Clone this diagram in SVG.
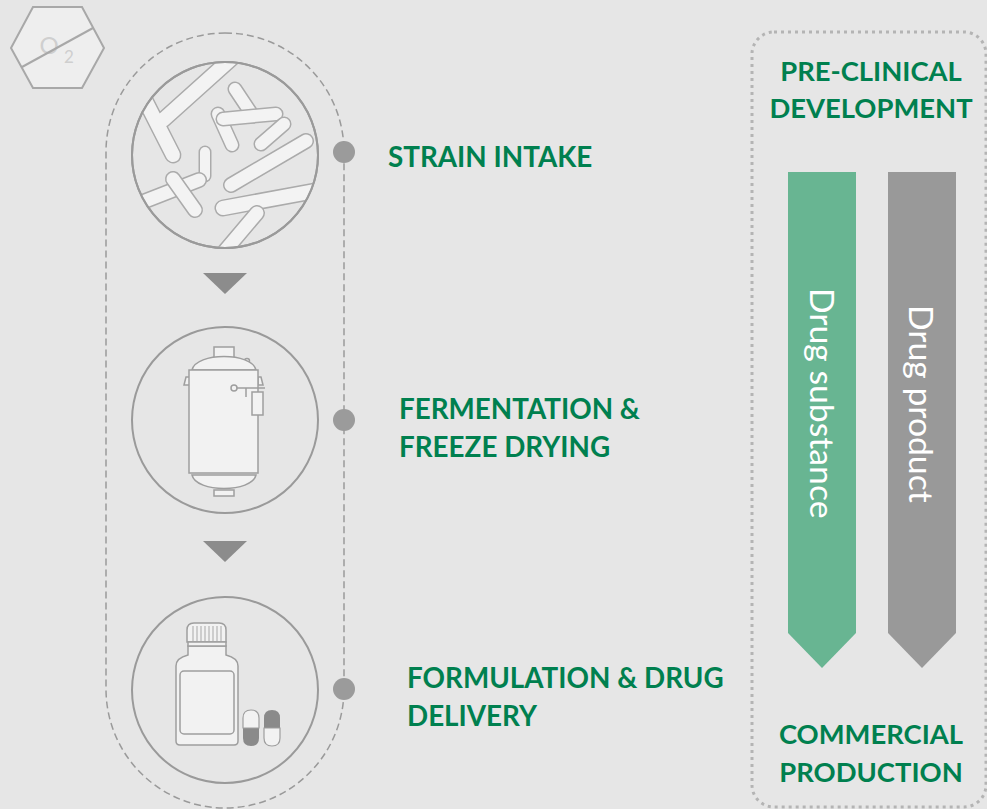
<svg xmlns="http://www.w3.org/2000/svg" width="987" height="809" viewBox="0 0 987 809">
  <style>
    .step { font-family: Lato, "Open Sans", "Liberation Sans", sans-serif; font-weight: 700; fill: #00804f; font-size: 27.8px; }
    .phase { font-family: Lato, "Open Sans", "Liberation Sans", sans-serif; font-weight: 700; fill: #00804f; font-size: 27.4px; text-anchor: middle; }
    .band { font-family: Lato, "Open Sans", "Liberation Sans", sans-serif; font-weight: 400; fill: #ffffff; font-size: 33.7px; }
    .ring { fill: #e6e6e6; stroke: #9a9a9a; stroke-width: 2; }
    .dot { fill: #9b9b9b; }
    .tri { fill: #8c8c8c; }
    .rodO { stroke: #ababab; stroke-linecap: round; fill: none; }
    .rodF { stroke: #f3f3f3; stroke-linecap: round; fill: none; }
    .ico { fill: #f2f2f2; stroke: #9e9e9e; stroke-width: 1.5; }
  </style>
  <defs>
    <clipPath id="clipMicrobe"><circle cx="225" cy="155" r="92"/></clipPath>
  </defs>

  <rect width="987" height="809" fill="#e6e6e6"/>

  <!-- oxygen badge -->
  <g id="oxygen-badge">
    <polygon points="33,7 82,7 104,48 82,88 33,88 11,48" fill="#eeeeee" stroke="#a8a8a8" stroke-width="2"/>
    <text x="49" y="54" font-family="Lato, 'Liberation Sans', sans-serif" font-size="24" fill="#cfcfcf" text-anchor="middle">O</text>
    <text x="69" y="63" font-family="Lato, 'Liberation Sans', sans-serif" font-size="17" fill="#cfcfcf" text-anchor="middle">2</text>
    <line x1="22" y1="67" x2="93" y2="28" stroke="#a8a8a8" stroke-width="2"/>
  </g>

  <!-- process loop and connectors -->
  <g id="connectors">
    <rect x="106" y="33" width="238" height="775" rx="119" ry="119" fill="none" stroke="#9a9a9a" stroke-width="1.5" stroke-dasharray="7,4"/>
    <polygon class="tri" points="203,273 247,273 225,294"/>
    <polygon class="tri" points="203,541 247,541 225,562"/>
  </g>

  <!-- step 1: strain intake -->
  <g id="strain-intake">
    <circle class="ring" cx="225" cy="155" r="93"/>
    <g clip-path="url(#clipMicrobe)">
      <g class="rodO" stroke-width="17">
        <line x1="232" y1="58" x2="163" y2="120"/>
        <line x1="145" y1="100" x2="173" y2="155"/>
      </g>
      <g class="rodF" stroke-width="14">
        <line x1="232" y1="58" x2="163" y2="120"/>
        <line x1="145" y1="100" x2="173" y2="155"/>
      </g>
      <line class="rodO" stroke-width="13" x1="205" y1="152" x2="205" y2="176"/>
      <line class="rodF" stroke-width="10" x1="205" y1="152" x2="205" y2="176"/>
      <line class="rodO" stroke-width="15" x1="235" y1="89" x2="253" y2="116"/>
      <line class="rodF" stroke-width="12" x1="235" y1="89" x2="253" y2="116"/>
      <line class="rodO" stroke-width="15" x1="218" y1="114" x2="232" y2="145"/>
      <line class="rodF" stroke-width="12" x1="218" y1="114" x2="232" y2="145"/>
      <line class="rodO" stroke-width="15" x1="223" y1="119" x2="276" y2="114"/>
      <line class="rodF" stroke-width="12" x1="223" y1="119" x2="276" y2="114"/>
      <line class="rodO" stroke-width="15" x1="261" y1="144" x2="284" y2="124"/>
      <line class="rodF" stroke-width="12" x1="261" y1="144" x2="284" y2="124"/>
      <line class="rodO" stroke-width="16" x1="231" y1="185" x2="306" y2="141"/>
      <line class="rodF" stroke-width="13" x1="231" y1="185" x2="306" y2="141"/>
      <line class="rodO" stroke-width="16" x1="140" y1="203" x2="199" y2="180"/>
      <line class="rodF" stroke-width="13" x1="140" y1="203" x2="199" y2="180"/>
      <line class="rodO" stroke-width="16" x1="173" y1="179" x2="195" y2="210"/>
      <line class="rodF" stroke-width="13" x1="173" y1="179" x2="195" y2="210"/>
      <line class="rodO" stroke-width="17" x1="223" y1="208" x2="320" y2="190"/>
      <line class="rodF" stroke-width="14" x1="223" y1="208" x2="320" y2="190"/>
      <line class="rodO" stroke-width="16" x1="224" y1="252" x2="257" y2="213"/>
      <line class="rodF" stroke-width="13" x1="224" y1="252" x2="257" y2="213"/>
    </g>
    <circle cx="225" cy="155" r="93" fill="none" stroke="#9a9a9a" stroke-width="2"/>
    <circle class="dot" cx="344" cy="152" r="11"/>
    <text class="step" x="388" y="167">STRAIN INTAKE</text>
  </g>

  <!-- step 2: fermentation and freeze drying -->
  <g id="fermentation">
    <circle class="ring" cx="225" cy="420" r="93"/>
    <rect class="ico" x="214" y="347" width="20" height="11"/>
    <circle class="ico" cx="247" cy="361" r="2.5"/>
    <path class="ico" d="M192,370 C196,352 252,352 256,370 Z"/>
    <path class="ico" d="M184,385 L186,377 L190,377 L190,385 Z"/>
    <path class="ico" d="M263,385 L261,377 L258,377 L258,385 Z"/>
    <path class="ico" d="M192,475 C196,493 252,493 256,475 Z"/>
    <rect class="ico" x="214" y="490" width="20" height="6"/>
    <rect class="ico" x="189" y="370" width="69" height="103"/>
    <circle class="ico" cx="234" cy="388" r="3"/>
    <line x1="237" y1="388" x2="265" y2="388" stroke="#9e9e9e" stroke-width="1.5"/>
    <line x1="246" y1="388" x2="246" y2="397" stroke="#9e9e9e" stroke-width="1.5"/>
    <rect class="ico" x="252" y="392" width="11" height="23"/>
    <circle class="dot" cx="344" cy="420" r="11"/>
    <text class="step" x="399" y="419">FERMENTATION &amp;</text>
    <text class="step" x="399" y="457">FREEZE DRYING</text>
  </g>

  <!-- step 3: formulation and drug delivery -->
  <g id="formulation">
    <circle class="ring" cx="225" cy="690" r="93"/>
    <path class="ico" d="M188,646 L226,646 L226,655 Q238,658 238,666 L238,741 Q238,745 234,745 L180,745 Q176,745 176,741 L176,666 Q176,658 188,655 Z"/>
    <rect class="ico" x="180" y="671" width="54" height="63" rx="4"/>
    <path class="ico" d="M187,642 L187,630 Q187,623 194,623 L219,623 Q226,623 226,630 L226,642 Z"/>
    <g stroke="#a8a8a8" stroke-width="1">
      <line x1="193" y1="626" x2="193" y2="641"/>
      <line x1="197" y1="626" x2="197" y2="641"/>
      <line x1="201" y1="626" x2="201" y2="641"/>
      <line x1="205" y1="626" x2="205" y2="641"/>
      <line x1="209" y1="626" x2="209" y2="641"/>
      <line x1="213" y1="626" x2="213" y2="641"/>
      <line x1="217" y1="626" x2="217" y2="641"/>
      <line x1="221" y1="626" x2="221" y2="641"/>
    </g>
    <rect class="ico" x="188" y="642" width="38" height="4"/>
    <path d="M243,728 L243,738 Q243,746 251,746 Q259,746 259,738 L259,728 Z" fill="#8a8a8a"/>
    <path d="M243,728 L243,718 Q243,710 251,710 Q259,710 259,718 L259,728 Z" fill="#f2f2f2" stroke="#9e9e9e" stroke-width="1.2"/>
    <path d="M264,728 L264,718 Q264,710 272,710 Q280,710 280,718 L280,728 Z" fill="#8a8a8a"/>
    <path d="M264,728 L264,738 Q264,746 272,746 Q280,746 280,738 L280,728 Z" fill="#f2f2f2" stroke="#9e9e9e" stroke-width="1.2"/>
    <circle class="dot" cx="344" cy="689" r="11"/>
    <text class="step" x="407" y="688">FORMULATION &amp; DRUG</text>
    <text class="step" x="407" y="726">DELIVERY</text>
  </g>

  <!-- development phase panel -->
  <g id="phase-panel">
    <rect x="752" y="32" width="234" height="775" rx="22" ry="22" fill="none" stroke="#b4b4b4" stroke-width="3" stroke-dasharray="3,4"/>
    <text class="phase" x="871" y="81">PRE-CLINICAL</text>
    <text class="phase" x="871" y="118">DEVELOPMENT</text>
    <text class="phase" x="871" y="744">COMMERCIAL</text>
    <text class="phase" x="871" y="782">PRODUCTION</text>
  </g>

  <g id="drug-substance">
    <polygon points="788,172 856,172 856,633 822,668 788,633" fill="#68b592"/>
    <text class="band" transform="translate(810,288) rotate(90)">Drug substance</text>
  </g>

  <g id="drug-product">
    <polygon points="888,172 956,172 956,633 922,668 888,633" fill="#999999"/>
    <text class="band" transform="translate(909,305) rotate(90)">Drug product</text>
  </g>
</svg>
